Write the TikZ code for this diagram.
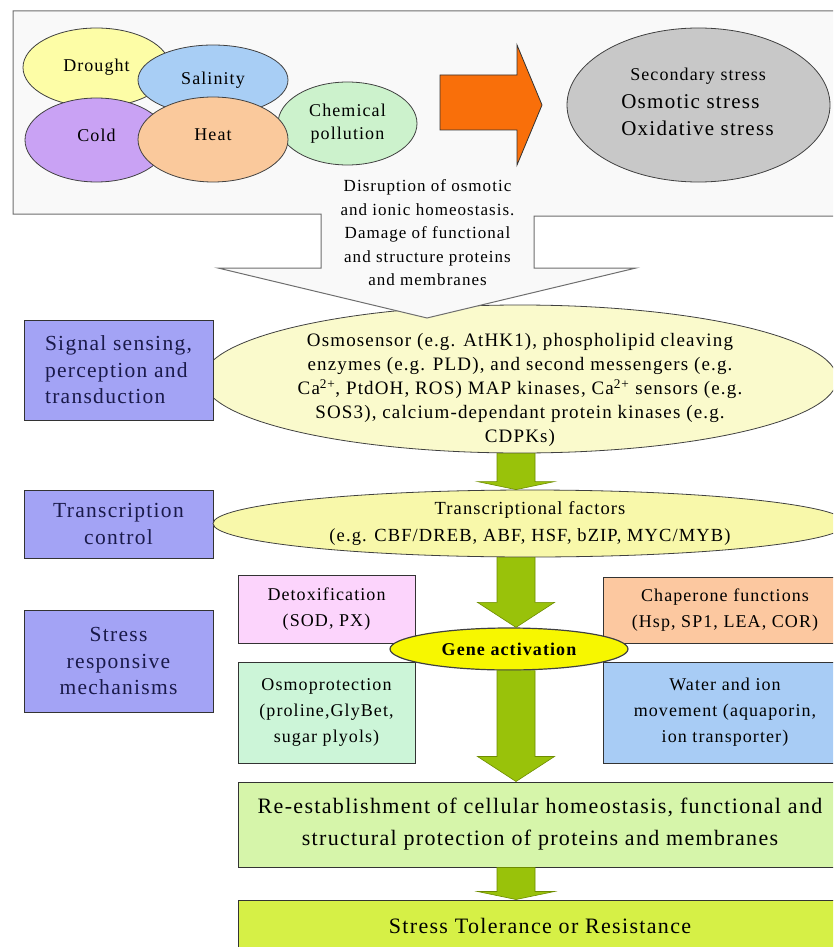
\documentclass[tikz,border=0pt]{standalone}
\usepackage{fontspec}
\setmainfont{Liberation Serif}[LetterSpace=6]
\usetikzlibrary{shapes.geometric,calc}

\definecolor{framefill}{HTML}{F9F9F9}
\definecolor{frameline}{HTML}{6E6E6E}
\definecolor{droughtcol}{HTML}{FDFDA6}
\definecolor{salinitycol}{HTML}{A8CEF5}
\definecolor{coldcol}{HTML}{C9A2F4}
\definecolor{heatcol}{HTML}{FAC99C}
\definecolor{chemcol}{HTML}{CCF2CC}
\definecolor{orangecol}{HTML}{F96F0A}
\definecolor{secgray}{HTML}{C8C8C8}
\definecolor{sidecol}{HTML}{A3A3F5}
\definecolor{sidetext}{HTML}{1A1A4A}
\definecolor{sigcol}{HTML}{FAFACC}
\definecolor{tfcol}{HTML}{F8F8AA}
\definecolor{genecol}{HTML}{F7F700}
\definecolor{detoxcol}{HTML}{FCD4FC}
\definecolor{osmocol}{HTML}{CCF5D8}
\definecolor{chapcol}{HTML}{FCC8A0}
\definecolor{watercol}{HTML}{A8CCF5}
\definecolor{recol}{HTML}{D6F5AA}
\definecolor{fincol}{HTML}{D6F046}
\definecolor{arrowgreen}{HTML}{99C20A}
\definecolor{arrowdark}{HTML}{6E8C00}

% block arrow between two nodes, #3 = head length
\newcommand{\bigarrow}[3]{%
  \coordinate (ba) at (#1 -| axis);
  \coordinate (bb) at (#2 -| axis);
  \filldraw[greenarrow] ($(ba)+(-19,0)$) -- ($(bb)+(-19,-#3)$) -- ($(bb)+(-38.5,-#3)$)
    -- (bb) -- ($(bb)+(38.5,-#3)$) -- ($(bb)+(19,-#3)$) -- ($(ba)+(19,0)$) -- cycle;}

\begin{document}
\begin{tikzpicture}[x=1pt,y=-1pt,
    ell/.style={ellipse,draw=black!75,line width=0.8pt,inner sep=0pt,align=center,
      font=\fontsize{18}{23}\selectfont},
    box/.style={rectangle,draw=black!80,line width=1pt,inner sep=0pt,align=center,
      font=\fontsize{18}{26}\selectfont},
    sidebox/.style={box,fill=sidecol,text=sidetext,minimum width=189pt,
      font=\fontsize{21.5}{26.5}\selectfont},
    greenarrow/.style={fill=arrowgreen,draw=arrowdark,line width=0.6pt}]
  \useasboundingbox (0,0) rectangle (833,947);
  \clip (0,0) rectangle (833,947);
  \coordinate (axis) at (516,0);

  \node[ell,fill=sigcol,minimum width=634pt,minimum height=148pt] (sig) at (520,379) {};
  \node[font=\fontsize{19}{24}\selectfont,align=center,inner sep=0pt] (sigtxt) at ($(sig.center)+(0,11)$)
    {Osmosensor (e.g. AtHK1), phospholipid cleaving\\
     enzymes (e.g. PLD), and second messengers (e.g.\\
     Ca\textsuperscript{2+}, PtdOH, ROS) MAP kinases, Ca\textsuperscript{2+} sensors (e.g.\\
     SOS3), calcium-dependant protein kinases (e.g.\\
     CDPKs)};

  \filldraw[fill=framefill,draw=frameline,line width=1pt] (845,11) -- (13,11) -- (13,214)
    -- (321,214) -- (321,268) -- (218,268) -- (427,318) -- (636,268) -- (534,268)
    -- (534,216) -- (845,216);

  \node[ell,fill=droughtcol,minimum width=147pt,minimum height=79pt] (drought) at (96.5,67.5) {\raisebox{5pt}{Drought}};
  \node[ell,fill=salinitycol,minimum width=150pt,minimum height=70pt] (salinity) at (213,80) {Salinity};
  \node[ell,fill=chemcol,minimum width=139pt,minimum height=83pt] (chem) at (347.5,123.5) {Chemical\\pollution};
  \node[ell,fill=coldcol,minimum width=143pt,minimum height=84pt] (cold) at (96.5,140) {\raisebox{9pt}{Cold}};
  \node[ell,fill=heatcol,minimum width=150pt,minimum height=85pt] (heat) at (213,139.5) {\raisebox{10pt}{Heat}};

  \filldraw[fill=orangecol,draw=black!80,line width=0.8pt] (440,75) -- (517,75) -- (517,45)
    -- (542,105) -- (517,165) -- (517,130) -- (440,130) -- cycle;

  \node[ell,fill=secgray,minimum width=263pt,minimum height=154pt] (second) at (698.5,105) {};
  \node[align=left,inner sep=0pt,font=\fontsize{21}{27.5}\selectfont] (sectxt) at ($(second.center)+(-1,-3)$)
    {\hspace{9pt}{\fontsize{18}{27}\selectfont Secondary stress}\\
     Osmotic stress\\
     Oxidative stress};

  \node[font=\fontsize{17}{23.5}\selectfont,align=center,inner sep=0pt] (damage) at (427.5,233)
    {Disruption of osmotic\\and ionic homeostasis.\\Damage of functional\\and structure proteins\\and membranes};

  \node[sidebox,minimum height=100pt,align=left] (sigbox) at (118.5,370) {Signal sensing,\\perception and\\transduction};
  \node[sidebox,minimum height=68pt] (tcbox) at (118.5,524) {Transcription\\control};
  \node[sidebox,minimum height=102pt] (srbox) at (118.5,661) {Stress\\responsive\\mechanisms};

  \node[ell,fill=tfcol,minimum width=634pt,minimum height=67pt,font=\fontsize{18.5}{27}\selectfont] (tf) at (530,523.5)
    {Transcriptional factors\\(e.g. CBF/DREB, ABF, HSF, bZIP, MYC/MYB)};

  \node[box,fill=detoxcol,minimum width=177pt,minimum height=68pt] (detox) at (326.5,609) {Detoxification\\(SOD, PX)};
  \node[box,fill=osmocol,minimum width=177pt,minimum height=101pt] (osmo) at (326.5,712.5) {Osmoprotection\\(proline,GlyBet,\\sugar plyols)};
  \node[box,fill=chapcol,minimum width=244pt,minimum height=66pt] (chap) at (725,610) {Chaperone functions\\(Hsp, SP1, LEA, COR)};
  \node[box,fill=watercol,minimum width=244pt,minimum height=101pt] (water) at (725,712.5) {Water and ion\\movement (aquaporin,\\ion transporter)};

  \node[box,fill=recol,minimum width=604pt,minimum height=85pt,font=\fontsize{22}{32}\selectfont] (re) at (540,824.5)
    {Re-establishment of cellular homeostasis, functional and\\structural protection of proteins and membranes};
  \node[box,fill=fincol,minimum width=604pt,minimum height=60pt,font=\fontsize{22}{26}\selectfont] (fin) at (540,930)
    {\raisebox{8pt}{Stress Tolerance or Resistance}};

  \node[ell,fill=genecol,minimum width=238pt,minimum height=42pt,line width=1.2pt,font=\bfseries\fontsize{18}{20}\selectfont] (gene) at (509,649) {Gene activation};
  \bigarrow{sig.south}{tf.north}{8}
  \bigarrow{tf.south}{gene.north}{25}
  \bigarrow{gene.south}{re.north}{25}
  \bigarrow{re.south}{fin.north}{8}
\end{tikzpicture}
\end{document}
